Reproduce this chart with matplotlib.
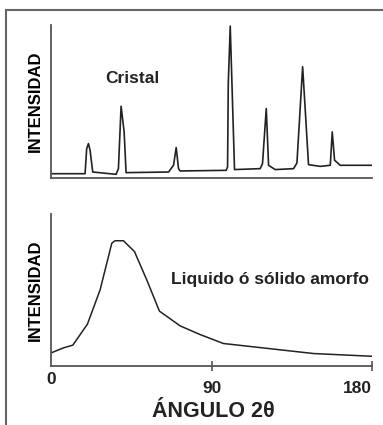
import numpy as np
import matplotlib.pyplot as plt
from matplotlib.lines import Line2D

plt.rcParams['font.family'] = ['Liberation Sans', 'DejaVu Sans']
plt.rcParams['font.weight'] = 'bold'

# crystal pattern (2theta in degrees, intensity in %)
cristal_x = [0, 19.1, 20.0, 21.0, 21.9, 23.4, 36.5, 37.8, 39.3, 41.0, 42.1,
             65.9, 68.7, 70.2, 71.5, 72.4, 98.2, 99.0, 99.4, 100.5, 102.9,
             117.3, 118.6, 120.7, 122.0, 125.7, 136.0, 137.9, 141.1, 144.4,
             151.0, 156.6, 157.7, 159.0, 162.2, 180]
cristal_y = [2.8, 2.8, 19.2, 22.5, 18.1, 3.9, 2.4, 6.1, 46.9, 30.1, 3.5,
             3.9, 8.3, 19.9, 6.1, 4.6, 5.0, 7.2, 61.8, 99.3, 5.5,
             6.1, 9.4, 45.4, 8.3, 5.5, 6.1, 9.8, 72.7, 8.7,
             7.6, 8.3, 30.1, 11.6, 8.3, 8.3]

# amorphous pattern
amorfo_x = [0, 6.9, 12.2, 20.4, 27.5, 34.1, 35.9, 40.6, 46.8, 53.7, 60.8,
            72.4, 83.6, 96.7, 113.6, 130.4, 147.3, 180]
amorfo_y = [8.6, 11.9, 13.7, 27.5, 50.0, 80.8, 82.4, 82.4, 75.3, 56.6, 36.1,
            26.4, 20.7, 14.8, 12.6, 10.4, 8.2, 6.4]

tick_vals = [0, 90, 180]
tick_labels = ['0', '90', '180']

fig = plt.figure(figsize=(3.83, 4.25), dpi=100)
ax1 = fig.add_axes([0.1332, 0.5812, 0.8381, 0.36])
ax2 = fig.add_axes([0.1332, 0.1388, 0.8381, 0.3577])

spine_col = '#555555'
for ax in (ax1, ax2):
    ax.set_xlim(0, 180)
    ax.set_ylim(0, 100)
    for s in ('top', 'right'):
        ax.spines[s].set_visible(False)
    for s in ('left', 'bottom'):
        ax.spines[s].set_color(spine_col)
        ax.spines[s].set_linewidth(1.3)
    ax.set_yticks([])
    ax.set_ylabel('INTENSIDAD', fontsize=12, fontweight='bold', labelpad=6)

ax1.plot(cristal_x, cristal_y, color='#222222', lw=1.2)
ax1.set_xticks([])
ax1.text(0.255, 0.65, 'Cristal', transform=ax1.transAxes, fontsize=12.5,
         fontweight='bold', ha='center', va='center', color='#222222')

ax2.plot(amorfo_x, amorfo_y, color='#222222', lw=1.1)
ax2.set_xticks([90, 180])
ax2.tick_params(axis='x', direction='inout', length=7, width=1.2,
                color=spine_col, labelbottom=False)
ax2.text(0.99, 0.566, 'Liquido ó sólido amorfo', transform=ax2.transAxes,
         fontsize=12.5, fontweight='bold', ha='right', va='center', color='#222222')

# staggered tick labels
for v, lab in zip(tick_vals, tick_labels):
    yoff = -0.09 if v == 0 else -0.148
    ha = 'right' if v == 180 else 'center'
    ax2.text(v, yoff, lab, transform=ax2.get_xaxis_transform(), fontsize=12.5,
             fontweight='bold', ha=ha, va='center', color='#222222')
ax2.text(0.505, -0.3, 'ÁNGULO 2θ', transform=ax2.transAxes, fontsize=15.5,
         fontweight='bold', ha='center', va='center', color='#222222')

# outer frame (left and top)
fig.add_artist(Line2D([6/383, 6/383], [0, 1 - 10/425], color='#666666', lw=1.5))
fig.add_artist(Line2D([6/383, 1], [1 - 10/425, 1 - 10/425], color='#666666', lw=1.5))

fig.savefig('out.png', dpi=100)
